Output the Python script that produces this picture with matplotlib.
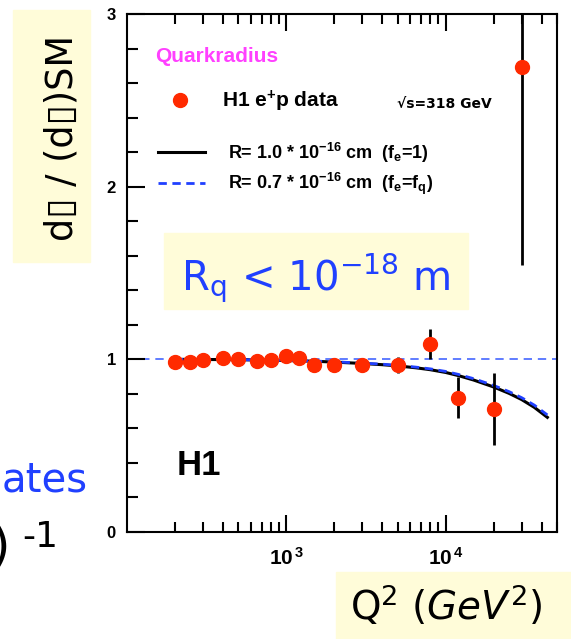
import matplotlib.pyplot as plt
from matplotlib.patches import Rectangle
from matplotlib.ticker import MultipleLocator, LogLocator, NullFormatter

plt.rcParams['mathtext.fontset'] = 'custom'
plt.rcParams['mathtext.rm'] = 'Liberation Sans:bold'
plt.rcParams['mathtext.it'] = 'Liberation Sans:bold'
plt.rcParams['mathtext.bf'] = 'Liberation Sans:bold'
plt.rcParams['mathtext.default'] = 'rm'

# H1 e+p NC cross section ratio to SM
q2 = [200, 250, 300, 400, 500, 650, 800, 1000, 1200, 1500, 2000, 3000,
      5000, 8000, 12000, 20000, 30000]
ratio = [0.986, 0.983, 0.996, 1.006, 1.0, 0.99, 0.994, 1.021, 1.006, 0.965,
         0.965, 0.969, 0.967, 1.09, 0.778, 0.711, 2.695]
ratio_err = [0.01, 0.01, 0.01, 0.01, 0.01, 0.01, 0.012, 0.012, 0.014, 0.016,
             0.02, 0.022, 0.045, 0.087, 0.12, 0.207, 1.15]

# form factor fits
q2_fit = [200, 500, 1000, 1500, 2000, 3000, 4000, 5000, 6500, 8000, 10000,
          12000, 15000, 20000, 25000, 30000, 36000, 43500]
r_fe1 = [1.0, 0.998, 0.993, 0.989, 0.984, 0.976, 0.969, 0.962, 0.951, 0.940,
         0.924, 0.906, 0.880, 0.840, 0.803, 0.767, 0.722, 0.664]
r_feq = [1.0, 0.998, 0.994, 0.990, 0.986, 0.978, 0.972, 0.965, 0.955, 0.945,
         0.930, 0.913, 0.888, 0.849, 0.813, 0.778, 0.735, 0.678]

red = '#ff2a00'
blue = '#2040ff'
pale = '#fffcd9'

fig = plt.figure(figsize=(5.71, 6.39), dpi=100)
ax = fig.add_axes([127 / 571, 1 - 532 / 639, 430 / 571, 518 / 639])

ax.axhline(1.0, color='#4466ff', lw=1.2, ls=(0, (5, 3.5)), zorder=1)
l1, = ax.plot(q2_fit, r_fe1, color='black', lw=2.2, zorder=2,
              label='R= 1.0 * 10$^{-16}$ cm  (f$_e$=1)')
l2, = ax.plot(q2_fit, r_feq, color=blue, lw=2.0, ls=(0, (3, 2)), zorder=3,
              label='R= 0.7 * 10$^{-16}$ cm  (f$_e$=f$_q$)')
ax.errorbar(q2, ratio, yerr=ratio_err, fmt='none', ecolor='black',
            elinewidth=2, capsize=0, zorder=4)
pts, = ax.plot(q2, ratio, 'o', color=red, ms=10, mec=red, zorder=5,
               label='H1 e$^{+}$p data')

ax.set_xscale('log')
ax.set_xlim(100, 50000)
ax.set_ylim(0, 3)

ax.set_xticks([1e3, 1e4])
ax.set_xticklabels(['10$^{\\,3}$', '10$^{\\,4}$'])
ax.xaxis.set_minor_locator(LogLocator(base=10, subs=range(2, 10)))
ax.xaxis.set_minor_formatter(NullFormatter())
ax.set_yticks([0, 1, 2, 3])
ax.set_yticklabels(['0', '1', '2', '3'])
ax.yaxis.set_minor_locator(MultipleLocator(0.2))

ax.tick_params(which='both', direction='in', top=True, right=False,
               width=1.5, labelsize=12)
ax.tick_params(axis='x', which='major', length=12, pad=11, labelsize=15)
ax.tick_params(axis='x', which='minor', length=7)
ax.tick_params(axis='y', which='major', length=13, pad=8)
ax.tick_params(axis='y', which='minor', length=8)
for lab in ax.get_xticklabels() + ax.get_yticklabels():
    lab.set_fontweight('bold')
    lab.set_family('Liberation Sans')
for sp in ax.spines.values():
    sp.set_linewidth(1.5)

# legend
leg1 = ax.legend(handles=[pts], loc='center left', bbox_to_anchor=(0.10, 0.832),
                 frameon=False, borderpad=0, borderaxespad=0, handlelength=1.0,
                 handletextpad=1.5, prop={'family': 'Liberation Sans',
                                          'weight': 'bold', 'size': 15})
ax.add_artist(leg1)
ax.legend(handles=[l1, l2], loc='center left', bbox_to_anchor=(0.072, 0.701),
          frameon=False, borderpad=0, borderaxespad=0, handlelength=2.6,
          handletextpad=1.3, labelspacing=0.35,
          prop={'family': 'Liberation Sans', 'weight': 'bold', 'size': 13})

ax.text(0.065, 0.917, 'Quarkradius', transform=ax.transAxes, color='#ff40ff',
        fontsize=15, fontweight='bold', family='Liberation Sans', va='center')
ax.text(0.628, 0.826, '\u221as=318 GeV', transform=ax.transAxes,
        fontsize=10, family='DejaVu Sans', fontweight='bold', va='center')
ax.text(0.116, 0.129, 'H1', transform=ax.transAxes, fontsize=25,
        fontweight='bold', family='Liberation Sans', va='center')

# highlighted boxes
fig.patches.append(Rectangle((13 / 571, 1 - 262 / 639), 77 / 571, 252 / 639,
                             transform=fig.transFigure, color=pale, zorder=0))
fig.patches.append(Rectangle((164 / 571, 1 - 309 / 639), 304 / 571, 76 / 639,
                             transform=fig.transFigure, color=pale, zorder=0))
fig.patches.append(Rectangle((336 / 571, 0), 235 / 571, 67 / 639,
                             transform=fig.transFigure, color=pale, zorder=0))

fig.text(62 / 571, 1 - 138 / 639, 'd\u25af / (d\u25af)SM', rotation=90,
         ha='center', va='center', fontsize=26.5, family='DejaVu Sans')
fig.text(316 / 571, 1 - 278 / 639, r'R$_{q}$ < 10$^{-18}$ m', color=blue,
         ha='center', va='center', fontsize=29, family='DejaVu Sans',
         math_fontfamily='dejavusans', zorder=3)
fig.text(446 / 571, 1 - 606 / 639, r'Q$^{2}$ ($\mathit{GeV}^{2}$)',
         ha='center', va='center', fontsize=28, family='DejaVu Sans',
         math_fontfamily='dejavusans')
fig.text(88 / 571, 1 - 492 / 639, 'ates', color=blue, ha='right',
         va='baseline', fontsize=29, family='DejaVu Sans')
fig.text(10 / 571, 1 - 562 / 639, ')', ha='right', va='baseline',
         fontsize=36, family='DejaVu Sans')
fig.text(22 / 571, 1 - 547 / 639, '-1', ha='left', va='baseline',
         fontsize=26, family='DejaVu Sans')

fig.savefig('out.png', dpi=100)
